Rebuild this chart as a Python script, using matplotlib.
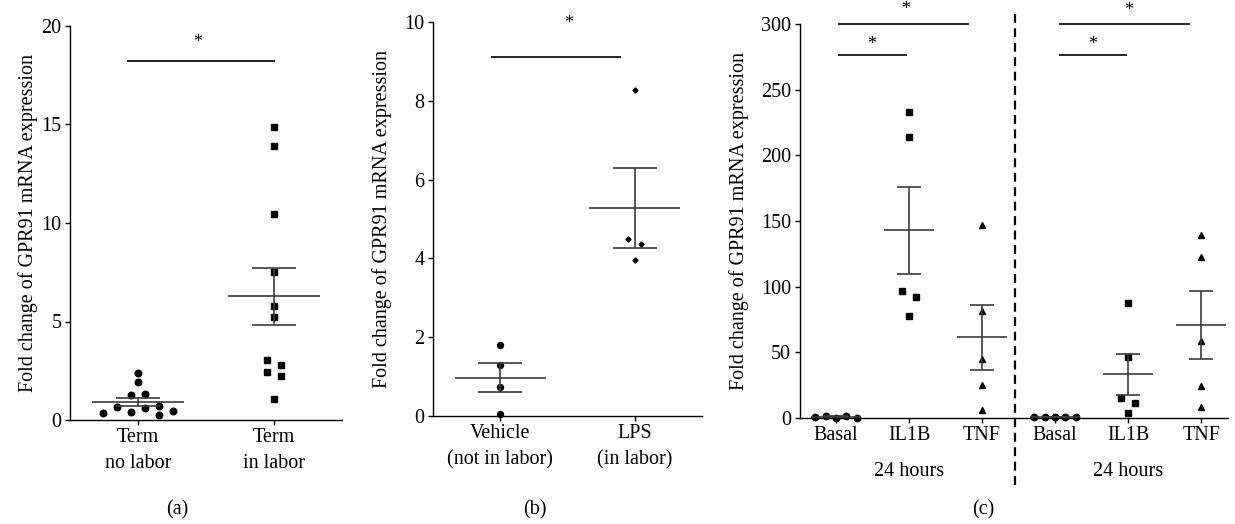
import matplotlib
matplotlib.use('Agg')
import matplotlib.pyplot as plt
import matplotlib.transforms as mtransforms
import numpy as np

plt.rcParams['font.family'] = ['Liberation Serif', 'DejaVu Serif']
plt.rcParams['font.size'] = 14.5

# ---- panel (a) ----
a_labels = ['Term\nno labor', 'Term\nin labor']
a_no_labor = [2.37, 1.94, 1.27, 1.32, 0.37, 0.68, 0.42, 0.62, 0.71, 0.25, 0.47]
a_in_labor = [14.86, 13.89, 10.44, 7.50, 5.79, 5.21, 3.03, 2.79, 2.42, 2.22, 1.05]
a_mean = [0.93, 6.28]
a_sem = [0.20, 1.45]

# ---- panel (b) ----
b_labels = ['Vehicle\n(not in labor)', 'LPS\n(in labor)']
b_vehicle = [1.80, 1.29, 0.74, 0.05]
b_lps = [8.28, 4.50, 4.37, 3.95]
b_mean = [0.97, 5.28]
b_sem = [0.37, 1.01]

# ---- panel (c) ----
c_labels = ['Basal', 'IL1B', 'TNF', 'Basal', 'IL1B', 'TNF']
c_basal_1 = [0.6, 1.4, 0.3, 1.5, 0.2]
c_il1b_1 = [232.8, 213.6, 97.0, 92.4, 77.8]
c_tnf_1 = [146.9, 81.3, 45.3, 25.5, 6.3]
c_basal_2 = [0.8, 0.9, 0.7, 1.0, 0.6]
c_il1b_2 = [87.9, 46.8, 14.9, 11.1, 3.8]
c_tnf_2 = [139.6, 122.6, 58.8, 24.0, 8.1]
c_mean = [1.0, 142.8, 61.3, 1.0, 33.4, 70.9]
c_sem = [0.2, 33.0, 24.6, 0.1, 15.7, 26.1]
c_group = '24 hours'

# significance bars: (x0, x1, y, star x, star y)
a_sig = [(-0.08, 1.01, 18.2, 0.44, 19.15)]
b_sig = [(-0.07, 0.90, 9.1, 0.51, 9.97)]
c_sig = [(0.03, 1.82, 300, 0.95, 311), (0.03, 0.97, 276.4, 0.49, 284.5),
         (3.05, 4.84, 300, 4.01, 310), (3.05, 3.99, 276.4, 3.52, 284.5)]

YLABEL = 'Fold change of GPR91 mRNA expression'
GRAY = '#3c3c3c'
FS = 14.5


def dots(ax, x, vals, offs, marker, ms):
    ax.plot(x + np.asarray(offs), vals, ls='none', marker=marker, ms=ms,
            color='black', mec='black', clip_on=False, zorder=3)


def mean_sem(ax, x, m, s):
    kw = dict(color=GRAY, lw=1.2, zorder=4, clip_on=False)
    ax.hlines(m, x - 0.34, x + 0.34, **kw)
    ax.hlines([m - s, m + s], x - 0.165, x + 0.165, **kw)
    ax.vlines(x, m - s, m + s, **kw)


def sig(ax, bars):
    for x0, x1, y, sx, sy in bars:
        ax.hlines(y, x0, x1, color='black', lw=1.2, clip_on=False)
        ax.text(sx, sy, '*', ha='center', va='center', fontsize=13)


def style_ax(ax, xlim, ylim, yticks, labels, label_x):
    ax.set_xlim(*xlim)
    ax.set_ylim(*ylim)
    ax.set_yticks(yticks)
    ax.set_xticks(range(len(labels)))
    ax.set_xticklabels(labels, linespacing=1.45)
    for sp in ['top', 'right']:
        ax.spines[sp].set_visible(False)
    for sp in ['left', 'bottom']:
        ax.spines[sp].set_linewidth(1.0)
    ax.tick_params(direction='out', length=3.5, width=1.0, pad=2.5, labelsize=FS)
    ax.set_ylabel(YLABEL, fontsize=FS, va='center')
    ax.yaxis.set_label_coords(label_x, 0.5)


fig = plt.figure(figsize=(12.35, 5.24), dpi=100)

# (a)
ax1 = fig.add_axes([70 / 1235, 104 / 524, 272 / 1235, 394 / 524])
dots(ax1, 0, a_no_labor, [0, 0, -0.05, 0.05, -0.26, -0.155, -0.05, 0.05, 0.155, 0.155, 0.26], 'o', 4.7)
dots(ax1, 1, a_in_labor, [0, 0, 0, 0, 0, 0, -0.052, 0.052, -0.052, 0.052, 0], 's', 4.8)
for i in range(2):
    mean_sem(ax1, i, a_mean[i], a_sem[i])
sig(ax1, a_sig)
style_ax(ax1, (-0.5, 1.5), (0, 20), [0, 5, 10, 15, 20], a_labels, (28 - 70) / 272)

# (b)
ax2 = fig.add_axes([433 / 1235, 108 / 524, 269 / 1235, 394 / 524])
dots(ax2, 0, b_vehicle, [0, 0, 0, 0], 'o', 4.3)
dots(ax2, 1, b_lps, [0, -0.05, 0.05, 0], 'D', 2.6)
for i in range(2):
    mean_sem(ax2, i, b_mean[i], b_sem[i])
sig(ax2, b_sig)
style_ax(ax2, (-0.5, 1.5), (0, 10), [0, 2, 4, 6, 8, 10], b_labels, (381.7 - 433) / 269)

# (c)
ax3 = fig.add_axes([799.5 / 1235, 106 / 524, 428 / 1235, 394 / 524])
basal_offs = [-0.285, -0.14, 0, 0.14, 0.285]
il1b_offs = [0, 0, -0.1, 0.1, 0]
dots(ax3, 0, c_basal_1, basal_offs, 'o', 4.6)
dots(ax3, 1, c_il1b_1, il1b_offs, 's', 5.0)
dots(ax3, 2, c_tnf_1, [0] * 5, '^', 5.0)
dots(ax3, 3, c_basal_2, basal_offs, 'o', 4.6)
dots(ax3, 4, c_il1b_2, il1b_offs, 's', 5.0)
dots(ax3, 5, c_tnf_2, [0] * 5, '^', 5.0)
for i in range(6):
    mean_sem(ax3, i, c_mean[i], c_sem[i])
sig(ax3, c_sig)
style_ax(ax3, (-0.5, 5.36), (0, 300), [0, 50, 100, 150, 200, 250, 300], c_labels,
         (738.7 - 799.5) / 428)

trans = mtransforms.blended_transform_factory(ax3.transData, ax3.transAxes)
for gx in [1, 4]:
    ax3.text(gx, -0.136, c_group, transform=trans, ha='center', va='center', fontsize=FS)
ax3.plot([2.45, 2.45], [-0.17, 1.03], transform=trans, color='black', lw=1.6,
         ls=(0, (4, 2.5)), clip_on=False)

for lab, px in [('(a)', 177), ('(b)', 535), ('(c)', 983)]:
    fig.text(px / 1235, 1 - 510 / 524, lab, ha='center', va='center', fontsize=FS)

fig.savefig('out.png', dpi=100)
